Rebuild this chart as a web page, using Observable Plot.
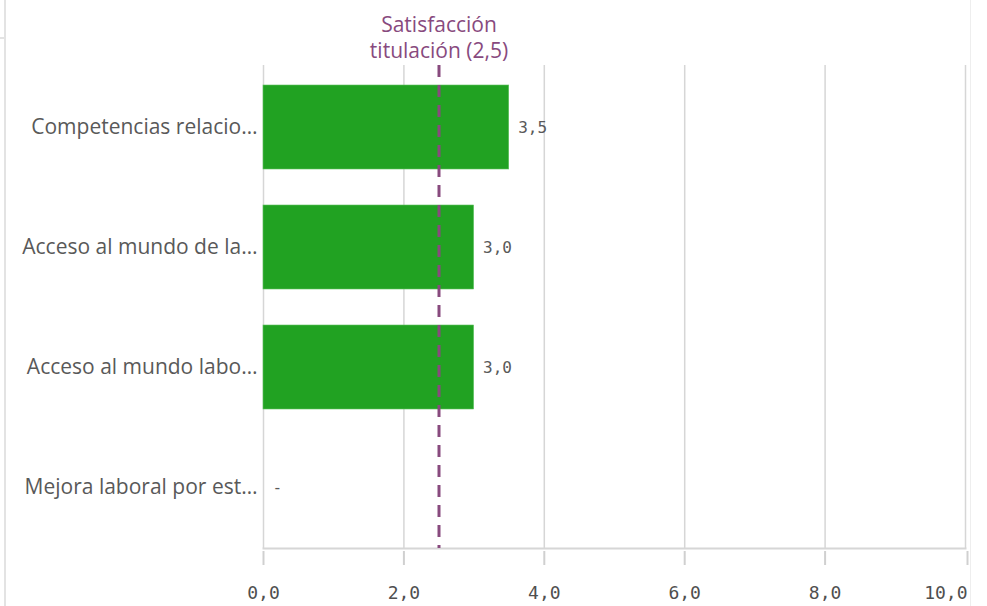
<!DOCTYPE html>
<html>
<head>
<meta charset="utf-8">
<script src="https://cdn.jsdelivr.net/npm/d3@7"></script>
<script src="https://cdn.jsdelivr.net/npm/@observablehq/plot@0.6"></script>
<style>
  html, body { margin: 0; padding: 0; background: #fff; }
  body { width: 987px; height: 606px; position: relative; overflow: hidden; }
  #chart { position: absolute; left: 0; top: 0; }
  .edge { position: absolute; background: #e3e3e3; }
</style>
</head>
<body>
<div class="edge" style="left:4px;top:0;width:2px;height:606px;"></div>
<div class="edge" style="left:0;top:37px;width:5px;height:2px;"></div>
<div class="edge" style="left:970px;top:0;width:1px;height:606px;background:#eeeeee"></div>
<div id="chart"></div>
<script>
const categories = [
  "Competencias relacio…",
  "Acceso al mundo de la…",
  "Acceso al mundo labo…",
  "Mejora laboral por est…"
];
const values = [3.5, 3.0, 3.0, null];
const refValue = 2.5;
const refLabel = "Satisfacción\ntitulación (2,5)";
const xTicks = [0, 2, 4, 6, 8, 10];

const fmt = v => v == null ? "-" : v.toFixed(1).replace(".", ",");
const rows = categories.map((c, i) => ({cat: c, value: values[i]}));

const grey = "#595959";
const purple = "#884a7e";
const green = "#21a222";
const sans = "'Open Sans'";

const chart = Plot.plot({
  width: 987,
  height: 606,
  marginLeft: 263,
  marginRight: 22,
  marginTop: 65,
  marginBottom: 58,
  style: {fontFamily: sans, color: grey, background: "transparent"},
  x: {domain: [0, 10], axis: null, label: null},
  y: {domain: categories, paddingInner: 0.3, paddingOuter: 0.15, axis: null, label: null},
  marks: [
    Plot.gridX(xTicks, {stroke: "#d6d6d6", strokeOpacity: 1, strokeWidth: 1.5}),
    Plot.frame({anchor: "bottom", stroke: "#d6d6d6", strokeWidth: 2}),
    Plot.barX(rows.filter(d => d.value != null), {
      x: "value", y: "cat", fill: green, stroke: "#5fc160", strokeWidth: 0.6
    }),
    Plot.text(rows, {
      x: d => d.value ?? 0, y: "cat", text: d => fmt(d.value),
      textAnchor: "start", dx: 9, fill: grey, fontSize: 16,
      fontFamily: "DejaVu Sans Mono"
    }),
    Plot.axisY({
      tickSize: 0, tickPadding: 6, fontSize: 21, fill: grey,
      fontFamily: sans, label: null
    }),
    Plot.ruleX([refValue], {
      stroke: purple, strokeWidth: 3, strokeDasharray: "12,8"
    }),
    Plot.text([refValue], {
      x: d => d, frameAnchor: "top", text: () => refLabel,
      lineAnchor: "bottom", dy: -8, fill: purple, fontSize: 21,
      lineHeight: 1.2, fontFamily: sans
    }),
    Plot.axisX(xTicks.slice(0, -1), {
      tickSize: 14, dy: 3, tickPadding: 21, fontSize: 18,
      fontFamily: "DejaVu Sans Mono", stroke: "#d0d0d0", fill: "#4f4f4f",
      strokeWidth: 2, tickFormat: fmt, label: null
    }),
    Plot.axisX(xTicks.slice(-1), {
      tickSize: 14, dy: 3, tickPadding: 21, fontSize: 18,
      fontFamily: "DejaVu Sans Mono", stroke: "#d0d0d0", fill: "#4f4f4f",
      strokeWidth: 2, tickFormat: fmt, textAnchor: "end", dx: 2, label: null
    })
  ]
});
document.getElementById("chart").appendChild(chart);
</script>
</body>
</html>
